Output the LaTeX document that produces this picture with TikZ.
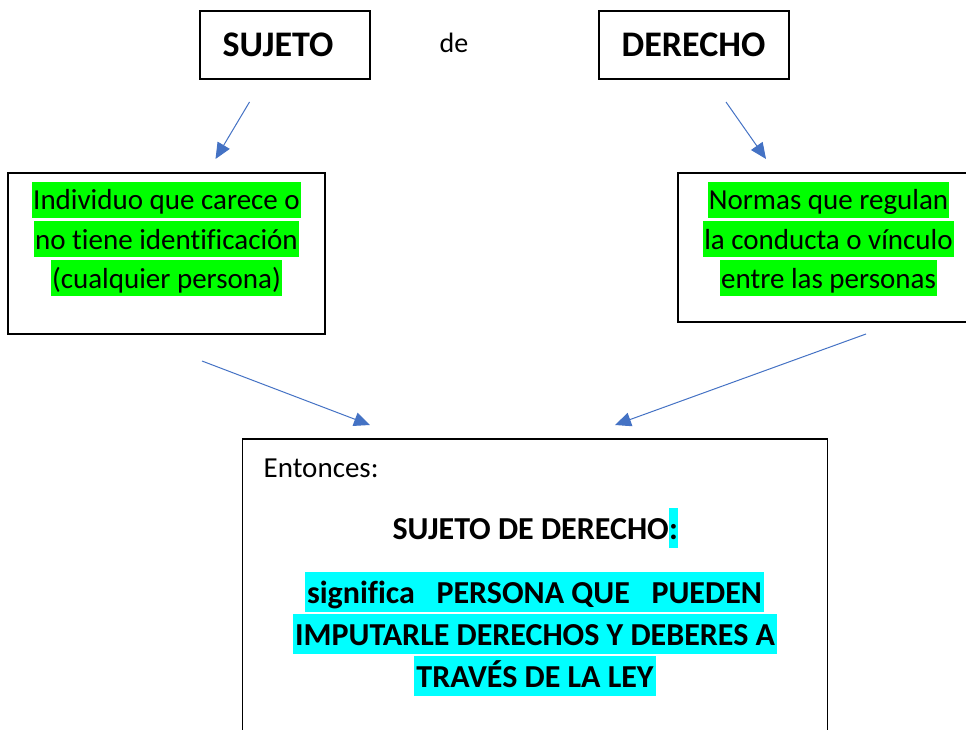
\documentclass[tikz,border=0pt]{standalone}
\usepackage{fontspec}
\setmainfont{Carlito}[Ligatures={NoCommon}]
\usepackage{tikz}
\usetikzlibrary{arrows.meta}
\usetikzlibrary{positioning}
\definecolor{flecha}{HTML}{4472C4}
\definecolor{verde}{HTML}{00FF00}
\definecolor{celeste}{HTML}{00FFFF}

\begin{document}
\begin{tikzpicture}[x=1pt,y=-1pt,
    caja/.style={draw,line width=1.2pt,inner sep=0pt},
    flechita/.style={flecha,line width=1pt,-{Triangle[length=16pt,width=14pt]}},
    titulo/.style={font=\fontsize{36}{40}\selectfont\bfseries,anchor=base},
    verdelinea/.style={fill=verde,inner xsep=1pt,inner ysep=0pt,text height=28pt,text depth=8pt,anchor=base,font=\fontsize{29}{35}\selectfont},
    celestelinea/.style={fill=celeste,inner xsep=2pt,inner ysep=0pt,text height=31pt,text depth=9pt,anchor=base,font=\fontsize{32}{40}\selectfont\bfseries}]
  \useasboundingbox (0,0) rectangle (966,730);
  \node[caja,minimum width=170pt,minimum height=68pt] (sujeto) at (285,45) {};
  \node[titulo] (sujetotxt) at (278,57) {SUJETO};
  \node[anchor=base,font=\fontsize{28}{34}\selectfont] (de) at (454,53) {de};
  \node[caja,minimum width=190pt,minimum height=68pt] (derecho) at (694,45) {};
  \node[titulo] (derechotxt) at (693.5,57) {DERECHO};

  \node[caja,minimum width=317pt,minimum height=161pt] (individuo) at (166.5,253.5) {};
  \node[verdelinea] (ind1) at (166.5,210) {Individuo que carece o};
  \node[verdelinea] (ind2) at (166.5,249) {no tiene identificación};
  \node[verdelinea] (ind3) at (166.5,288) {(cualquier persona)};

  \node[caja,minimum width=297pt,minimum height=149pt] (normas) at (826.5,247.5) {};
  \node[verdelinea] (nor1) at (828.5,210) {Normas que regulan};
  \node[verdelinea] (nor2) at (828.5,249) {la conducta o vínculo};
  \node[verdelinea] (nor3) at (828.5,288) {entre las personas};

  \node[caja,minimum width=585pt,minimum height=310pt] (entonces) at (535,594) {};
  \node[anchor=base west,inner sep=0pt,font=\fontsize{29}{35}\selectfont] (entoncestxt) at (263.5,477) {Entonces:};
  \node[anchor=base east,inner sep=0pt,font=\fontsize{32}{40}\selectfont\bfseries] (sujder) at (669,539) {SUJETO DE DERECHO};
  \node[celestelinea,anchor=base west,inner xsep=0pt] (dospuntos) at (sujder.base east) {:};
  \node[celestelinea] (sig1) at (534.5,603) {significa\ \ \ PERSONA QUE\ \ \ PUEDEN};
  \node[celestelinea] (sig2) at (535,645) {IMPUTARLE DERECHOS Y DEBERES A};
  \node[celestelinea] (sig3) at (535,687) {TRAVÉS DE LA LEY};

  \coordinate (a1) at (249.5,102);
  \coordinate (b1) at (215.5,159);
  \coordinate (a2) at (726,102);
  \coordinate (b2) at (766,159);
  \coordinate (a3) at (202,361);
  \coordinate (b3) at (370,425);
  \coordinate (a4) at (866,334);
  \coordinate (b4) at (615,425);
  \draw[flechita] (a1) -- (b1);
  \draw[flechita] (a2) -- (b2);
  \draw[flechita] (a3) -- (b3);
  \draw[flechita] (a4) -- (b4);
\end{tikzpicture}
\end{document}
